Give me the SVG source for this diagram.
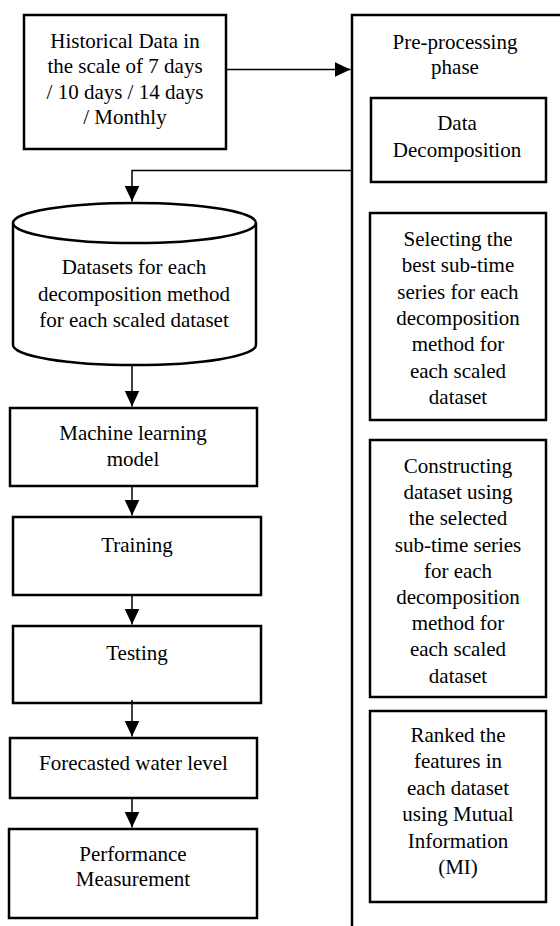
<svg xmlns="http://www.w3.org/2000/svg" width="560" height="926" viewBox="0 0 560 926">
<style>
.box{fill:#fff;stroke:#000;stroke-width:2.5}
.frame{fill:none;stroke:#000;stroke-width:2.5}
.c{fill:none;stroke:#000;stroke-width:1.5}
</style>
<defs>
<marker id="ah" markerUnits="userSpaceOnUse" markerWidth="17" markerHeight="16" refX="16" refY="8" orient="auto">
<path d="M0,0.5 L16,8 L0,15.5 Z" fill="#000"/>
</marker>
</defs>
<rect width="560" height="926" fill="#fff"/>

<g font-family="Liberation Serif, DejaVu Serif, serif" font-size="21" fill="#000" text-anchor="middle">
<g id="phase">
<path class="frame" d="M352,926 V15 H562"/>
<text x="455" y="48.5">Pre-processing</text>
<text x="455" y="74">phase</text>
</g>

<g id="historical">
<rect class="box" x="24" y="15" width="202" height="134"/>
<text x="125" y="47.5">Historical Data in</text>
<text x="125" y="73">the scale of 7 days</text>
<text x="125" y="98.5">/ 10 days / 14 days</text>
<text x="125" y="124">/ Monthly</text>
</g>

<g id="decomposition">
<rect class="box" x="371" y="98" width="175" height="84"/>
<text x="457" y="130">Data</text>
<text x="457" y="157">Decomposition</text>
</g>

<g id="selecting">
<rect class="box" x="370" y="213" width="176" height="207"/>
<text x="458" y="246">Selecting the</text>
<text x="458" y="272.3">best sub-time</text>
<text x="458" y="298.6">series for each</text>
<text x="458" y="324.9">decomposition</text>
<text x="458" y="351.2">method for</text>
<text x="458" y="377.5">each scaled</text>
<text x="458" y="403.8">dataset</text>
</g>

<g id="constructing">
<rect class="box" x="370" y="440" width="176" height="257"/>
<text x="458" y="473">Constructing</text>
<text x="458" y="499.2">dataset using</text>
<text x="458" y="525.4">the selected</text>
<text x="458" y="551.6">sub-time series</text>
<text x="458" y="577.8">for each</text>
<text x="458" y="604">decomposition</text>
<text x="458" y="630.2">method for</text>
<text x="458" y="656.4">each scaled</text>
<text x="458" y="682.6">dataset</text>
</g>

<g id="ranked">
<rect class="box" x="370" y="711" width="176" height="191"/>
<text x="458" y="742">Ranked the</text>
<text x="458" y="768.4">features in</text>
<text x="458" y="794.8">each dataset</text>
<text x="458" y="821.2">using Mutual</text>
<text x="458" y="847.6">Information</text>
<text x="458" y="874">(MI)</text>
</g>

<g id="datasets">
<path class="box" d="M13,223 A121.5,20 0 0 1 256,223 V345 A121.5,20 0 0 1 13,345 Z"/>
<path class="frame" d="M13,223 A121.5,20 0 0 0 256,223"/>
<text x="134" y="274">Datasets for each</text>
<text x="134" y="300.5">decomposition method</text>
<text x="134" y="327">for each scaled dataset</text>
</g>

<g id="ml-model">
<rect class="box" x="10" y="408" width="247" height="78"/>
<text x="133" y="440">Machine learning</text>
<text x="133" y="466">model</text>
</g>

<g id="training">
<rect class="box" x="13" y="517" width="248" height="78"/>
<text x="137" y="552">Training</text>
</g>

<g id="testing">
<rect class="box" x="13" y="626" width="248" height="77"/>
<text x="137" y="660">Testing</text>
</g>

<g id="forecasted">
<rect class="box" x="10" y="738" width="247" height="60"/>
<text x="133.5" y="770">Forecasted water level</text>
</g>

<g id="performance">
<rect class="box" x="9" y="829" width="248" height="89"/>
<text x="133" y="861">Performance</text>
<text x="133" y="886">Measurement</text>
</g>
</g>

<g id="connectors">
<path class="c" d="M227,69.5 H350.5" marker-end="url(#ah)"/>
<path class="c" d="M351,170.5 H132 V201.5" marker-end="url(#ah)"/>
<path class="c" d="M132,366 V406.5" marker-end="url(#ah)"/>
<path class="c" d="M132,487 V515.5" marker-end="url(#ah)"/>
<path class="c" d="M132,596 V624.5" marker-end="url(#ah)"/>
<path class="c" d="M132,700 V736.5" marker-end="url(#ah)"/>
<path class="c" d="M132,799 V827.5" marker-end="url(#ah)"/>
</g>
</svg>
